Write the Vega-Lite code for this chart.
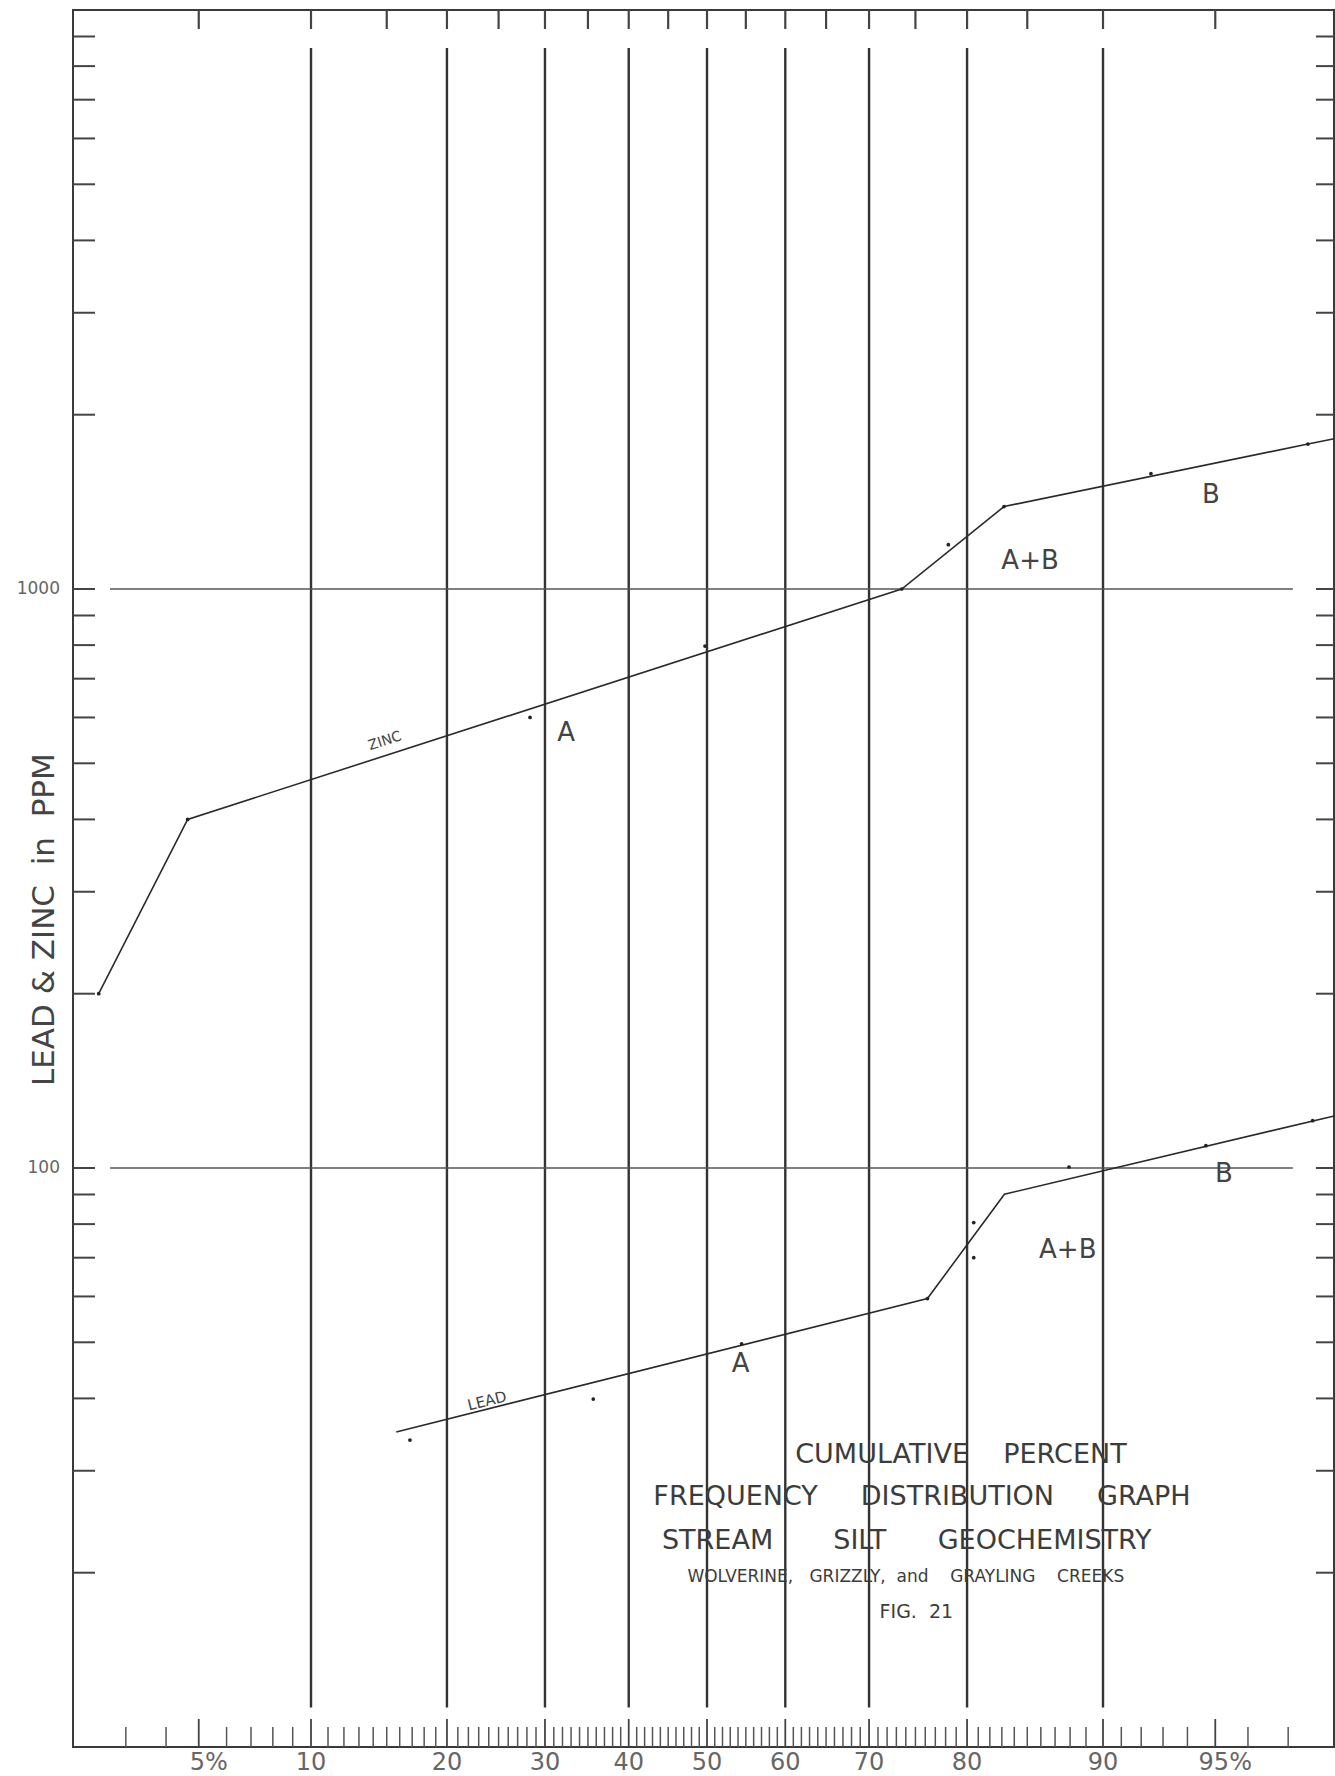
{
  "$schema": "https://vega.github.io/schema/vega-lite/v6.json",
  "width": 1261,
  "height": 1737,
  "autosize": {"type": "none"},
  "padding": {"left": 73, "top": 10, "right": 1, "bottom": 29},
  "background": "white",
  "config": {"view": {"stroke": "#3a3a3a", "strokeWidth": 2}, "font": "DejaVu Sans"},
  "datasets": {
    "grid": [{"pct": 10}, {"pct": 20}, {"pct": 30}, {"pct": 40}, {"pct": 50}, {"pct": 60}, {"pct": 70}, {"pct": 80}, {"pct": 90}],
    "hgrid": [{"ppm": 100}, {"ppm": 1000}],
    "yticks": [{"ppm": 20}, {"ppm": 30}, {"ppm": 40}, {"ppm": 50}, {"ppm": 60}, {"ppm": 70}, {"ppm": 80}, {"ppm": 90}, {"ppm": 100}, {"ppm": 200}, {"ppm": 300}, {"ppm": 400}, {"ppm": 500}, {"ppm": 600}, {"ppm": 700}, {"ppm": 800}, {"ppm": 900}, {"ppm": 1000}, {"ppm": 2000}, {"ppm": 3000}, {"ppm": 4000}, {"ppm": 5000}, {"ppm": 6000}, {"ppm": 7000}, {"ppm": 8000}, {"ppm": 9000}],
    "ylabels": [{"ppm": 1000, "label": "1000"}, {"ppm": 100, "label": "100"}],
    "minorTicks": [{"pct": 3}, {"pct": 4}, {"pct": 6}, {"pct": 7}, {"pct": 8}, {"pct": 9},
      {"pct": 11}, {"pct": 12}, {"pct": 13}, {"pct": 14}, {"pct": 15}, {"pct": 16}, {"pct": 17}, {"pct": 18}, {"pct": 19},
      {"pct": 21}, {"pct": 22}, {"pct": 23}, {"pct": 24}, {"pct": 25}, {"pct": 26}, {"pct": 27}, {"pct": 28}, {"pct": 29},
      {"pct": 31}, {"pct": 32}, {"pct": 33}, {"pct": 34}, {"pct": 35}, {"pct": 36}, {"pct": 37}, {"pct": 38}, {"pct": 39},
      {"pct": 41}, {"pct": 42}, {"pct": 43}, {"pct": 44}, {"pct": 45}, {"pct": 46}, {"pct": 47}, {"pct": 48}, {"pct": 49},
      {"pct": 51}, {"pct": 52}, {"pct": 53}, {"pct": 54}, {"pct": 55}, {"pct": 56}, {"pct": 57}, {"pct": 58}, {"pct": 59},
      {"pct": 61}, {"pct": 62}, {"pct": 63}, {"pct": 64}, {"pct": 65}, {"pct": 66}, {"pct": 67}, {"pct": 68}, {"pct": 69},
      {"pct": 71}, {"pct": 72}, {"pct": 73}, {"pct": 74}, {"pct": 75}, {"pct": 76}, {"pct": 77}, {"pct": 78}, {"pct": 79},
      {"pct": 81}, {"pct": 82}, {"pct": 83}, {"pct": 84}, {"pct": 85}, {"pct": 86}, {"pct": 87}, {"pct": 88}, {"pct": 89},
      {"pct": 91}, {"pct": 92}, {"pct": 93}, {"pct": 94}, {"pct": 96}, {"pct": 97}],
    "majorTicks": [{"pct": 5}, {"pct": 10}, {"pct": 20}, {"pct": 30}, {"pct": 40}, {"pct": 50}, {"pct": 60}, {"pct": 70}, {"pct": 80}, {"pct": 90}, {"pct": 95}],
    "topTicks": [{"pct": 5}, {"pct": 10}, {"pct": 15}, {"pct": 20}, {"pct": 25}, {"pct": 30}, {"pct": 35}, {"pct": 40}, {"pct": 45}, {"pct": 50}, {"pct": 55}, {"pct": 60}, {"pct": 65}, {"pct": 70}, {"pct": 75}, {"pct": 80}, {"pct": 85}, {"pct": 90}, {"pct": 95}],
    "xlabels": [{"pct": 10, "label": "10"}, {"pct": 20, "label": "20"}, {"pct": 30, "label": "30"}, {"pct": 40, "label": "40"}, {"pct": 50, "label": "50"}, {"pct": 60, "label": "60"}, {"pct": 70, "label": "70"}, {"pct": 80, "label": "80"}, {"pct": 90, "label": "90"}],
    "xlabelsPct": [{"pct": 5, "label": "5%"}, {"pct": 95, "label": "95%"}],
    "lines": [
      {"metal": "Zinc", "pct": 2.45, "ppm": 200},
      {"metal": "Zinc", "pct": 4.64, "ppm": 400},
      {"metal": "Zinc", "pct": 73.57, "ppm": 1000},
      {"metal": "Zinc", "pct": 83.18, "ppm": 1388},
      {"metal": "Zinc", "pct": 97.41, "ppm": 1780},
      {"metal": "Zinc", "pct": 97.88, "ppm": 1818},
      {"metal": "Lead", "pct": 15.73, "ppm": 35},
      {"metal": "Lead", "pct": 76.22, "ppm": 59.5},
      {"metal": "Lead", "pct": 83.21, "ppm": 90.1},
      {"metal": "Lead", "pct": 97.88, "ppm": 123}
    ],
    "points": [
      {"metal": "Zinc", "pct": 2.45, "ppm": 200},
      {"metal": "Zinc", "pct": 4.64, "ppm": 400},
      {"metal": "Zinc", "pct": 28.34, "ppm": 600},
      {"metal": "Zinc", "pct": 49.74, "ppm": 797},
      {"metal": "Zinc", "pct": 73.57, "ppm": 1000},
      {"metal": "Zinc", "pct": 78.26, "ppm": 1193},
      {"metal": "Zinc", "pct": 83.18, "ppm": 1388},
      {"metal": "Zinc", "pct": 92.46, "ppm": 1582},
      {"metal": "Zinc", "pct": 97.41, "ppm": 1780},
      {"metal": "Lead", "pct": 16.82, "ppm": 33.9},
      {"metal": "Lead", "pct": 35.64, "ppm": 39.9},
      {"metal": "Lead", "pct": 54.46, "ppm": 49.7},
      {"metal": "Lead", "pct": 76.22, "ppm": 59.5},
      {"metal": "Lead", "pct": 80.6, "ppm": 70},
      {"metal": "Lead", "pct": 80.6, "ppm": 80.5},
      {"metal": "Lead", "pct": 87.93, "ppm": 100.4},
      {"metal": "Lead", "pct": 94.68, "ppm": 109.3},
      {"metal": "Lead", "pct": 97.5, "ppm": 120.7}
    ],
    "segLabels": [
      {"pct": 32.41, "ppm": 563, "text": "A"},
      {"pct": 85.21, "ppm": 1119, "text": "A+B"},
      {"pct": 94.85, "ppm": 1455, "text": "B"},
      {"pct": 54.32, "ppm": 45.8, "text": "A"},
      {"pct": 87.85, "ppm": 72.3, "text": "A+B"},
      {"pct": 95.28, "ppm": 97.7, "text": "B"}
    ],
    "zincLabel": [{"pct": 14.87, "ppm": 546, "text": "ZINC"}],
    "leadLabel": [{"pct": 23.83, "ppm": 39.6, "text": "LEAD"}],
    "yTitle": [{"pct": 1.61, "ppm": 268.5, "text": "LEAD & ZINC \u00a0in \u00a0PPM"}],
    "titleBig": [
      {"pct": 79.44, "ppm": 31.98, "text": "CUMULATIVE \u00a0 \u00a0PERCENT"},
      {"pct": 75.67, "ppm": 27.06, "text": "FREQUENCY \u00a0 \u00a0 DISTRIBUTION \u00a0 \u00a0 GRAPH"},
      {"pct": 74.1, "ppm": 22.72, "text": "STREAM \u00a0 \u00a0 \u00a0 SILT \u00a0 \u00a0 \u00a0GEOCHEMISTRY"}
    ],
    "titleSmall": [{"pct": 74.0, "ppm": 19.68, "text": "WOLVERINE, \u00a0 GRIZZLY, \u00a0and \u00a0 \u00a0GRAYLING \u00a0 \u00a0CREEKS"}],
    "titleFig": [{"pct": 75.1, "ppm": 17.13, "text": "FIG. \u00a021"}]
  },
  "layer": [
    {
      "data": {"name": "grid"},
      "transform": [{"calculate": "quantileNormal(datum.pct / 100)", "as": "z"}],
      "mark": {"type": "rule", "color": "#333333", "strokeWidth": 2.4},
      "encoding": {
        "x": {"field": "z", "type": "quantitative", "scale": {"domain": [-2.0518, 2.0291], "nice": false, "zero": false}, "axis": null},
        "y": {"datum": 11.7, "type": "quantitative", "scale": {"type": "log", "domain": [10, 10000], "nice": false}, "axis": null},
        "y2": {"datum": 8600}
      }
    },
    {
      "data": {"name": "hgrid"},
      "mark": {"type": "rule", "color": "#555555", "strokeWidth": 1.4},
      "encoding": {
        "y": {"field": "ppm", "type": "quantitative", "scale": {"type": "log", "domain": [10, 10000], "nice": false}, "axis": null},
        "x": {"datum": -1.932, "type": "quantitative", "scale": {"domain": [-2.0518, 2.0291], "nice": false, "zero": false}, "axis": null},
        "x2": {"datum": 1.896}
      }
    },
    {
      "data": {"name": "yticks"},
      "mark": {"type": "rule", "color": "#444444", "strokeWidth": 2},
      "encoding": {
        "y": {"field": "ppm", "type": "quantitative", "scale": {"type": "log", "domain": [10, 10000], "nice": false}, "axis": null},
        "x": {"datum": -2.0518, "type": "quantitative", "scale": {"domain": [-2.0518, 2.0291], "nice": false, "zero": false}, "axis": null},
        "x2": {"datum": -1.9806}
      }
    },
    {
      "data": {"name": "yticks"},
      "mark": {"type": "rule", "color": "#444444", "strokeWidth": 2},
      "encoding": {
        "y": {"field": "ppm", "type": "quantitative", "scale": {"type": "log", "domain": [10, 10000], "nice": false}, "axis": null},
        "x": {"datum": 1.9708, "type": "quantitative", "scale": {"domain": [-2.0518, 2.0291], "nice": false, "zero": false}, "axis": null},
        "x2": {"datum": 2.0291}
      }
    },
    {
      "data": {"name": "ylabels"},
      "mark": {"type": "text", "fontSize": 17, "color": "#666666", "align": "right", "baseline": "middle", "dx": -13},
      "encoding": {
        "y": {"field": "ppm", "type": "quantitative", "scale": {"type": "log", "domain": [10, 10000], "nice": false}, "axis": null},
        "x": {"datum": -2.0518, "type": "quantitative", "scale": {"domain": [-2.0518, 2.0291], "nice": false, "zero": false}, "axis": null},
        "text": {"field": "label"}
      }
    },
    {
      "data": {"name": "yTitle"},
      "transform": [{"calculate": "quantileNormal(datum.pct / 100)", "as": "z"}],
      "mark": {"type": "text", "fontSize": 31, "color": "#444444", "align": "center", "baseline": "middle", "angle": 270},
      "encoding": {
        "x": {"field": "z", "type": "quantitative", "scale": {"domain": [-2.0518, 2.0291], "nice": false, "zero": false}, "axis": null},
        "y": {"field": "ppm", "type": "quantitative", "scale": {"type": "log", "domain": [10, 10000], "nice": false}, "axis": null},
        "text": {"field": "text"}
      }
    },
    {
      "data": {"name": "minorTicks"},
      "transform": [{"calculate": "quantileNormal(datum.pct / 100)", "as": "z"}],
      "mark": {"type": "rule", "color": "#555555", "strokeWidth": 1.5},
      "encoding": {
        "x": {"field": "z", "type": "quantitative", "scale": {"domain": [-2.0518, 2.0291], "nice": false, "zero": false}, "axis": null},
        "y": {"datum": 10, "type": "quantitative", "scale": {"type": "log", "domain": [10, 10000], "nice": false}, "axis": null},
        "y2": {"datum": 10.83}
      }
    },
    {
      "data": {"name": "majorTicks"},
      "transform": [{"calculate": "quantileNormal(datum.pct / 100)", "as": "z"}],
      "mark": {"type": "rule", "color": "#444444", "strokeWidth": 1.8},
      "encoding": {
        "x": {"field": "z", "type": "quantitative", "scale": {"domain": [-2.0518, 2.0291], "nice": false, "zero": false}, "axis": null},
        "y": {"datum": 10, "type": "quantitative", "scale": {"type": "log", "domain": [10, 10000], "nice": false}, "axis": null},
        "y2": {"datum": 11.18}
      }
    },
    {
      "data": {"name": "topTicks"},
      "transform": [{"calculate": "quantileNormal(datum.pct / 100)", "as": "z"}],
      "mark": {"type": "rule", "color": "#444444", "strokeWidth": 2.2},
      "encoding": {
        "x": {"field": "z", "type": "quantitative", "scale": {"domain": [-2.0518, 2.0291], "nice": false, "zero": false}, "axis": null},
        "y": {"datum": 10000, "type": "quantitative", "scale": {"type": "log", "domain": [10, 10000], "nice": false}, "axis": null},
        "y2": {"datum": 9272}
      }
    },
    {
      "data": {"name": "xlabels"},
      "transform": [{"calculate": "quantileNormal(datum.pct / 100)", "as": "z"}],
      "mark": {"type": "text", "fontSize": 24, "color": "#666666", "align": "center", "baseline": "middle", "dy": 16},
      "encoding": {
        "x": {"field": "z", "type": "quantitative", "scale": {"domain": [-2.0518, 2.0291], "nice": false, "zero": false}, "axis": null},
        "y": {"datum": 10, "type": "quantitative", "scale": {"type": "log", "domain": [10, 10000], "nice": false}, "axis": null},
        "text": {"field": "label"}
      }
    },
    {
      "data": {"name": "xlabelsPct"},
      "transform": [{"calculate": "quantileNormal(datum.pct / 100)", "as": "z"}],
      "mark": {"type": "text", "fontSize": 24, "color": "#666666", "align": "center", "baseline": "middle", "dy": 16, "dx": 10},
      "encoding": {
        "x": {"field": "z", "type": "quantitative", "scale": {"domain": [-2.0518, 2.0291], "nice": false, "zero": false}, "axis": null},
        "y": {"datum": 10, "type": "quantitative", "scale": {"type": "log", "domain": [10, 10000], "nice": false}, "axis": null},
        "text": {"field": "label"}
      }
    },
    {
      "data": {"name": "lines"},
      "transform": [{"calculate": "quantileNormal(datum.pct / 100)", "as": "z"}],
      "mark": {"type": "line", "color": "#2a2a2a", "strokeWidth": 1.6},
      "encoding": {
        "x": {"field": "z", "type": "quantitative", "scale": {"domain": [-2.0518, 2.0291], "nice": false, "zero": false}, "axis": null},
        "y": {"field": "ppm", "type": "quantitative", "scale": {"type": "log", "domain": [10, 10000], "nice": false}, "axis": null},
        "detail": {"field": "metal"}
      }
    },
    {
      "data": {"name": "points"},
      "transform": [{"calculate": "quantileNormal(datum.pct / 100)", "as": "z"}],
      "mark": {"type": "point", "filled": true, "color": "#222222", "size": 14, "opacity": 1},
      "encoding": {
        "x": {"field": "z", "type": "quantitative", "scale": {"domain": [-2.0518, 2.0291], "nice": false, "zero": false}, "axis": null},
        "y": {"field": "ppm", "type": "quantitative", "scale": {"type": "log", "domain": [10, 10000], "nice": false}, "axis": null}
      }
    },
    {
      "data": {"name": "segLabels"},
      "transform": [{"calculate": "quantileNormal(datum.pct / 100)", "as": "z"}],
      "mark": {"type": "text", "fontSize": 26, "color": "#444444", "align": "center", "baseline": "middle"},
      "encoding": {
        "x": {"field": "z", "type": "quantitative", "scale": {"domain": [-2.0518, 2.0291], "nice": false, "zero": false}, "axis": null},
        "y": {"field": "ppm", "type": "quantitative", "scale": {"type": "log", "domain": [10, 10000], "nice": false}, "axis": null},
        "text": {"field": "text"}
      }
    },
    {
      "data": {"name": "zincLabel"},
      "transform": [{"calculate": "quantileNormal(datum.pct / 100)", "as": "z"}],
      "mark": {"type": "text", "fontSize": 14, "color": "#444444", "align": "center", "baseline": "middle", "angle": -18},
      "encoding": {
        "x": {"field": "z", "type": "quantitative", "scale": {"domain": [-2.0518, 2.0291], "nice": false, "zero": false}, "axis": null},
        "y": {"field": "ppm", "type": "quantitative", "scale": {"type": "log", "domain": [10, 10000], "nice": false}, "axis": null},
        "text": {"field": "text"}
      }
    },
    {
      "data": {"name": "leadLabel"},
      "transform": [{"calculate": "quantileNormal(datum.pct / 100)", "as": "z"}],
      "mark": {"type": "text", "fontSize": 15, "color": "#444444", "align": "center", "baseline": "middle", "angle": -14},
      "encoding": {
        "x": {"field": "z", "type": "quantitative", "scale": {"domain": [-2.0518, 2.0291], "nice": false, "zero": false}, "axis": null},
        "y": {"field": "ppm", "type": "quantitative", "scale": {"type": "log", "domain": [10, 10000], "nice": false}, "axis": null},
        "text": {"field": "text"}
      }
    },
    {
      "data": {"name": "titleBig"},
      "transform": [{"calculate": "quantileNormal(datum.pct / 100)", "as": "z"}],
      "mark": {"type": "text", "fontSize": 27, "color": "#3c3c3c", "align": "center", "baseline": "middle"},
      "encoding": {
        "x": {"field": "z", "type": "quantitative", "scale": {"domain": [-2.0518, 2.0291], "nice": false, "zero": false}, "axis": null},
        "y": {"field": "ppm", "type": "quantitative", "scale": {"type": "log", "domain": [10, 10000], "nice": false}, "axis": null},
        "text": {"field": "text"}
      }
    },
    {
      "data": {"name": "titleSmall"},
      "transform": [{"calculate": "quantileNormal(datum.pct / 100)", "as": "z"}],
      "mark": {"type": "text", "fontSize": 17, "color": "#3c3c3c", "align": "center", "baseline": "middle"},
      "encoding": {
        "x": {"field": "z", "type": "quantitative", "scale": {"domain": [-2.0518, 2.0291], "nice": false, "zero": false}, "axis": null},
        "y": {"field": "ppm", "type": "quantitative", "scale": {"type": "log", "domain": [10, 10000], "nice": false}, "axis": null},
        "text": {"field": "text"}
      }
    },
    {
      "data": {"name": "titleFig"},
      "transform": [{"calculate": "quantileNormal(datum.pct / 100)", "as": "z"}],
      "mark": {"type": "text", "fontSize": 19, "color": "#3c3c3c", "align": "center", "baseline": "middle"},
      "encoding": {
        "x": {"field": "z", "type": "quantitative", "scale": {"domain": [-2.0518, 2.0291], "nice": false, "zero": false}, "axis": null},
        "y": {"field": "ppm", "type": "quantitative", "scale": {"type": "log", "domain": [10, 10000], "nice": false}, "axis": null},
        "text": {"field": "text"}
      }
    }
  ]
}
